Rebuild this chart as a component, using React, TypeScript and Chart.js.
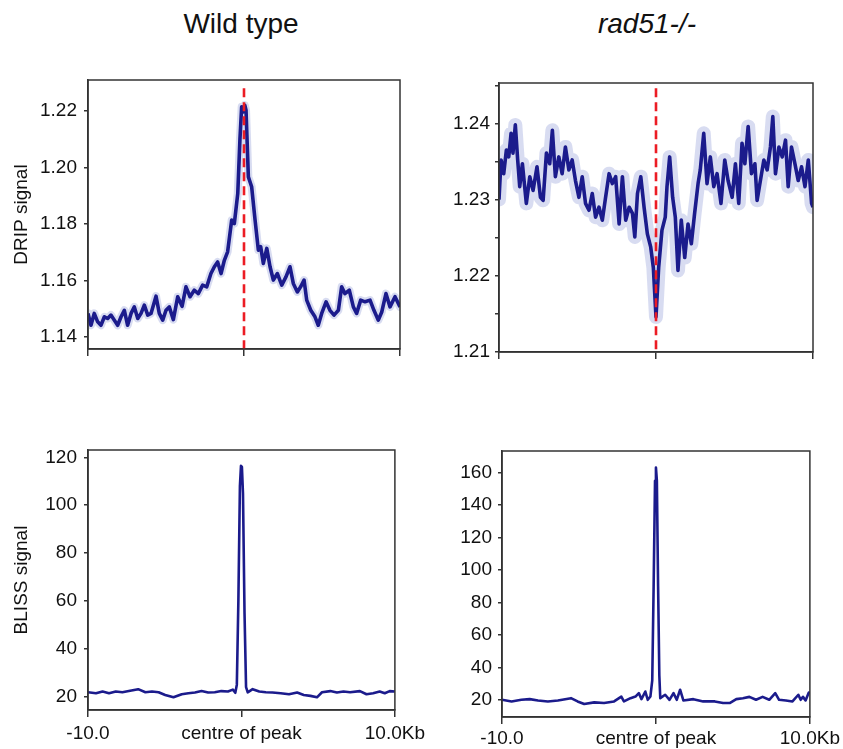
import React, { useEffect, useRef } from 'react';
import { Chart, registerables } from 'chart.js';

Chart.register(...registerables);

// ---------- data ----------
const xTickValues = [-10, 0, 10];
const xTickLabels = ['-10.0', 'centre of peak', '10.0Kb'];

const panelTitles = ['Wild type', 'rad51-/-'];
const yAxisTitles = ['DRIP signal', 'BLISS signal'];

// Wild type DRIP profile (kb from peak centre, signal)
const wtDripX = [-10, -9.81, -9.6, -9.38, -9.17, -8.95, -8.74, -8.53, -8.31, -8.1, -7.88, -7.67, -7.46, -7.24, -7.03, -6.81, -6.6, -6.39, -6.17, -5.96, -5.64, -5.43, -5.21, -5.0, -4.79, -4.53, -4.25, -3.97, -3.72, -3.46, -3.19, -2.93, -2.65, -2.39, -2.12, -1.9, -1.69, -1.47, -1.26, -1.05, -0.79, -0.62, -0.4, -0.26, -0.15, -0.05, 0.05, 0.13, 0.28, 0.49, 0.71, 0.92, 1.07, 1.24, 1.46, 1.67, 1.88, 2.14, 2.42, 2.69, 2.95, 3.16, 3.42, 3.63, 3.85, 4.02, 4.28, 4.55, 4.76, 4.98, 5.26, 5.51, 5.77, 6.05, 6.26, 6.47, 6.75, 7.01, 7.22, 7.48, 7.76, 8.08, 8.33, 8.61, 8.83, 9.1, 9.36, 9.68, 10];
const wtDripY = [1.1483, 1.1441, 1.1483, 1.1453, 1.1441, 1.1471, 1.1465, 1.1477, 1.1459, 1.1441, 1.1471, 1.1494, 1.1441, 1.1483, 1.1506, 1.1465, 1.1483, 1.1512, 1.1477, 1.1483, 1.1544, 1.1483, 1.1459, 1.1494, 1.1506, 1.1461, 1.1542, 1.1508, 1.1577, 1.1542, 1.1565, 1.1553, 1.1583, 1.1577, 1.1624, 1.1648, 1.1665, 1.1624, 1.1671, 1.1701, 1.1813, 1.1801, 1.1907, 1.2100, 1.2214, 1.2196, 1.2220, 1.2202, 1.1966, 1.1931, 1.1813, 1.1707, 1.1719, 1.1660, 1.1713, 1.1648, 1.1601, 1.1624, 1.1583, 1.1612, 1.1648, 1.1589, 1.1559, 1.1577, 1.1601, 1.1530, 1.1494, 1.1471, 1.1441, 1.1483, 1.1524, 1.1494, 1.1477, 1.1494, 1.1577, 1.1553, 1.1565, 1.1506, 1.1483, 1.1530, 1.1524, 1.1530, 1.1494, 1.1459, 1.1488, 1.1553, 1.1506, 1.1542, 1.1506];

// rad51-/- DRIP profile
const radDripX = [-10, -9.87, -9.7, -9.53, -9.38, -9.23, -9.11, -8.96, -8.81, -8.68, -8.51, -8.26, -8.04, -7.83, -7.58, -7.36, -7.19, -6.98, -6.77, -6.6, -6.41, -6.19, -5.98, -5.77, -5.55, -5.34, -5.13, -4.91, -4.7, -4.49, -4.27, -4.06, -3.85, -3.63, -3.42, -3.21, -2.99, -2.78, -2.57, -2.35, -2.14, -1.93, -1.71, -1.5, -1.35, -1.18, -0.97, -0.76, -0.55, -0.34, -0.17, 0.0, 0.17, 0.38, 0.59, 0.7, 0.87, 1.06, 1.23, 1.4, 1.61, 1.83, 2.04, 2.25, 2.46, 2.68, 2.82, 3.04, 3.25, 3.46, 3.68, 3.89, 4.14, 4.38, 4.59, 4.85, 5.06, 5.27, 5.48, 5.66, 5.87, 6.08, 6.3, 6.44, 6.65, 6.87, 7.08, 7.29, 7.44, 7.61, 7.83, 8.04, 8.25, 8.42, 8.63, 8.85, 9.06, 9.27, 9.49, 9.7, 9.91, 10];
const radDripY = [1.2300, 1.2352, 1.2334, 1.2365, 1.2356, 1.2387, 1.2361, 1.2398, 1.2352, 1.2317, 1.2347, 1.2295, 1.2330, 1.2312, 1.2343, 1.2303, 1.2299, 1.2361, 1.2347, 1.2391, 1.2330, 1.2356, 1.2334, 1.2369, 1.2339, 1.2352, 1.2325, 1.2303, 1.2330, 1.2295, 1.2286, 1.2308, 1.2277, 1.2290, 1.2273, 1.2303, 1.2334, 1.2321, 1.2330, 1.2268, 1.2330, 1.2273, 1.2290, 1.2282, 1.2251, 1.2308, 1.2330, 1.2290, 1.2255, 1.2238, 1.2211, 1.2146, 1.2211, 1.2260, 1.2277, 1.2317, 1.2356, 1.2303, 1.2277, 1.2207, 1.2273, 1.2224, 1.2268, 1.2242, 1.2282, 1.2321, 1.2339, 1.2387, 1.2321, 1.2356, 1.2317, 1.2334, 1.2295, 1.2352, 1.2325, 1.2303, 1.2347, 1.2295, 1.2374, 1.2347, 1.2396, 1.2334, 1.2347, 1.2299, 1.2325, 1.2352, 1.2339, 1.2369, 1.2409, 1.2334, 1.2369, 1.2356, 1.2378, 1.2317, 1.2369, 1.2347, 1.2325, 1.2343, 1.2317, 1.2352, 1.2295, 1.2290];

// Wild type BLISS profile
const wtBlissX = [-10, -9.48, -9.05, -8.63, -8.19, -7.76, -7.34, -6.73, -6.26, -5.83, -5.4, -4.97, -4.43, -3.89, -3.46, -3.03, -2.6, -2.17, -1.74, -1.31, -0.88, -0.56, -0.4, -0.3, -0.2, -0.1, -0.03, 0.03, 0.1, 0.2, 0.3, 0.41, 0.73, 1.16, 1.59, 2.02, 2.56, 3.1, 3.63, 4.06, 4.5, 4.92, 5.25, 5.79, 6.22, 6.65, 7.08, 7.72, 8.15, 8.58, 9.01, 9.34, 9.66, 10];
const wtBlissY = [21.8, 21.4, 22.1, 21.4, 22.1, 21.8, 22.3, 23.1, 21.8, 22.1, 21.8, 20.7, 19.7, 21.0, 21.4, 21.7, 22.3, 21.7, 21.8, 22.3, 22.1, 22.9, 21.6, 25, 60, 108, 116.4, 116, 105, 55, 24, 21.8, 23.1, 22.1, 21.8, 21.7, 21.4, 21.0, 21.7, 20.7, 20.3, 19.7, 21.8, 22.3, 21.7, 22.1, 21.8, 22.3, 21.0, 21.4, 22.1, 21.4, 22.3, 22.1];

// rad51-/- BLISS profile
const radBlissX = [-10, -9.38, -8.74, -8.2, -7.66, -7.02, -6.37, -5.52, -5.09, -4.66, -4.01, -3.37, -2.72, -2.25, -2.08, -1.65, -1.33, -1.11, -0.94, -0.69, -0.53, -0.36, -0.24, -0.15, -0.06, 0, 0.06, 0.14, 0.22, 0.28, 0.6, 0.88, 1.14, 1.35, 1.57, 1.78, 2.43, 3.07, 3.82, 4.36, 4.79, 5.22, 5.65, 6.07, 6.5, 6.93, 7.36, 7.75, 8.0, 8.44, 8.87, 9.25, 9.4, 9.55, 9.72, 9.93, 10];
const radBlissY = [20.0, 19.0, 20.0, 20.4, 19.6, 19.0, 19.6, 21.0, 19.0, 17.4, 18.4, 18.0, 19.0, 22.0, 19.0, 21.0, 22.0, 24.1, 20.4, 25.1, 20.0, 22.0, 32, 90, 155, 163.1, 155, 90, 35, 21.0, 23.1, 20.0, 24.1, 20.0, 26.2, 19.6, 20.4, 19.0, 19.0, 18.0, 18.0, 20.4, 21.0, 21.8, 20.0, 21.8, 20.0, 24.1, 20.0, 19.6, 19.0, 23.1, 20.0, 21.8, 19.6, 24.5, 24.0];

// ---------- styling ----------
const NAVY = '#1b1b8c';
const HALO = 'rgba(135,145,212,0.32)';
const RED = '#ec1c24';
const AXIS = '#333333';
const TEXT = '#111111';
const FONT = "'Liberation Sans', Arial, Helvetica, sans-serif";

type Panel = {
  key: string;
  box: { left: number; top: number; width: number; height: number };
  padding: { left: number; right: number; top: number; bottom: number };
  yWidth: number;
  xHeight: number;
  yMin: number;
  yMax: number;
  yStep: number;
  yLabelEvery: number;
  yDecimals: number;
  yPad: number;
  yTitle?: string;
  showXLabels: boolean;
  xPad: number;
  xs: number[];
  ys: number[];
  haloWidth?: number;
  marker?: [number, number];
  lineWidth: number;
};

const panels: Panel[] = [
  {
    key: 'wtDrip',
    box: { left: 0, top: 60, width: 420, height: 320 },
    padding: { left: 0, right: 20, top: 20, bottom: 0 },
    yWidth: 88, xHeight: 31,
    yMin: 1.1357, yMax: 1.2309, yStep: 0.02, yLabelEvery: 0.02, yDecimals: 2, yPad: 7,
    yTitle: yAxisTitles[0], showXLabels: false, xPad: 4,
    xs: wtDripX, ys: wtDripY, haloWidth: 8, marker: [1.2280, 1.1357], lineWidth: 3.6,
  },
  {
    key: 'radDrip',
    box: { left: 420, top: 60, width: 423, height: 320 },
    padding: { left: 0, right: 30, top: 23, bottom: 0 },
    yWidth: 79, xHeight: 28,
    yMin: 1.21, yMax: 1.2453, yStep: 0.005, yLabelEvery: 0.01, yDecimals: 2, yPad: 5,
    showXLabels: false, xPad: 4,
    xs: radDripX, ys: radDripY, haloWidth: 14, marker: [1.2446, 1.21], lineWidth: 3.6,
  },
  {
    key: 'wtBliss',
    box: { left: 0, top: 420, width: 430, height: 329 },
    padding: { left: 0, right: 32, top: 30, bottom: 0 },
    yWidth: 88, xHeight: 39,
    yMin: 14.4, yMax: 123.05, yStep: 20, yLabelEvery: 20, yDecimals: 0, yPad: 7,
    yTitle: yAxisTitles[1], showXLabels: true, xPad: 5,
    xs: wtBlissX, ys: wtBlissY, lineWidth: 2.6,
  },
  {
    key: 'radBliss',
    box: { left: 430, top: 420, width: 413, height: 329 },
    padding: { left: 0, right: 31, top: 31, bottom: 0 },
    yWidth: 72, xHeight: 32,
    yMin: 9.4, yMax: 173.3, yStep: 20, yLabelEvery: 20, yDecimals: 0, yPad: 6,
    showXLabels: true, xPad: 3,
    xs: radBlissX, ys: radBlissY, lineWidth: 2.6,
  },
];

const framePlugin = {
  id: 'frame',
  afterDraw(chart: any) {
    const { ctx, chartArea } = chart;
    ctx.save();
    ctx.strokeStyle = AXIS;
    ctx.lineWidth = 1.5;
    ctx.strokeRect(chartArea.left, chartArea.top, chartArea.right - chartArea.left, chartArea.bottom - chartArea.top);
    ctx.restore();
  },
};

function buildConfig(p: Panel): any {
  const pts = p.xs.map((x, i) => ({ x, y: p.ys[i] }));
  const datasets: any[] = [];
  if (p.marker) {
    datasets.push({
      data: [{ x: 0, y: p.marker[0] }, { x: 0, y: p.marker[1] }],
      borderColor: RED, backgroundColor: RED, borderWidth: 2.6, borderDash: [9, 5], pointRadius: 0, fill: false,
    });
  }
  datasets.push({
    data: pts, borderColor: NAVY, backgroundColor: NAVY, borderWidth: p.lineWidth, pointRadius: 0, fill: false,
    tension: 0, borderJoinStyle: 'round',
  });
  if (p.haloWidth) {
    // standard-error halo drawn beneath the mean line
    datasets.push({
      data: pts, borderColor: HALO, backgroundColor: HALO, borderWidth: p.haloWidth, pointRadius: 0, fill: false,
      tension: 0, borderJoinStyle: 'round', borderCapStyle: 'round',
    });
  }
  return {
    type: 'line',
    data: { datasets },
    plugins: [framePlugin],
    options: {
      animation: false,
      responsive: false,
      devicePixelRatio: 1,
      layout: { padding: p.padding },
      plugins: {
        legend: { display: false }, tooltip: { enabled: false }, title: { display: false },
      },
      scales: {
        x: {
          type: 'linear',
          min: -10, max: 10,
          afterBuildTicks: (scale: any) => { scale.ticks = xTickValues.map((v) => ({ value: v })); },
          afterFit: (scale: any) => { scale.height = p.xHeight; },
          ticks: {
            display: p.showXLabels,
            autoSkip: false,
            maxRotation: 0,
            padding: p.xPad,
            color: TEXT,
            font: { family: FONT, size: 19 },
            callback: (v: number) => {
              const idx = xTickValues.indexOf(v);
              return idx >= 0 ? xTickLabels[idx] : '';
            },
          },
          grid: { display: true, drawOnChartArea: false, drawTicks: true, tickLength: 7, color: AXIS, lineWidth: 1.5 },
          border: { display: true, color: AXIS, width: 1.5 },
        },
        y: {
          type: 'linear',
          min: p.yMin, max: p.yMax,
          afterFit: (scale: any) => { scale.width = p.yWidth; },
          ticks: {
            stepSize: p.yStep,
            includeBounds: false,
            autoSkip: false,
            padding: p.yPad,
            color: TEXT,
            font: { family: FONT, size: 19 },
            callback: (v: number) => {
              const r = v / p.yLabelEvery;
              return Math.abs(r - Math.round(r)) < 1e-6 ? v.toFixed(p.yDecimals) : '';
            },
          },
          title: p.yTitle
            ? { display: true, text: p.yTitle, color: TEXT, font: { family: FONT, size: 19 }, padding: { top: 10, bottom: 0 } }
            : { display: false },
          grid: { display: true, drawOnChartArea: false, drawTicks: true, tickLength: 4, color: AXIS, lineWidth: 1.5 },
          border: { display: true, color: AXIS, width: 1.5 },
        },
      },
    },
  };
}

function PanelChart({ p }: { p: Panel }) {
  const ref = useRef<HTMLCanvasElement | null>(null);
  useEffect(() => {
    if (!ref.current) return;
    const chart = new Chart(ref.current, buildConfig(p));
    return () => chart.destroy();
  }, [p]);
  return (
    <canvas
      ref={ref}
      width={p.box.width}
      height={p.box.height}
      style={{ position: 'absolute', left: p.box.left, top: p.box.top, width: p.box.width, height: p.box.height }}
    />
  );
}

export default function App() {
  const titleStyle: React.CSSProperties = {
    position: 'absolute', top: 10, width: 240, textAlign: 'center',
    fontFamily: FONT, fontSize: 28, lineHeight: '28px', color: TEXT, whiteSpace: 'nowrap',
  };
  return (
    <div style={{ position: 'absolute', left: 0, top: 0, width: 843, height: 749, background: '#ffffff', overflow: 'hidden' }}>
      <div style={{ ...titleStyle, left: 121 }}>{panelTitles[0]}</div>
      <div style={{ ...titleStyle, left: 527, fontStyle: 'italic' }}>{panelTitles[1]}</div>
      {panels.map((p) => (
        <PanelChart key={p.key} p={p} />
      ))}
    </div>
  );
}
